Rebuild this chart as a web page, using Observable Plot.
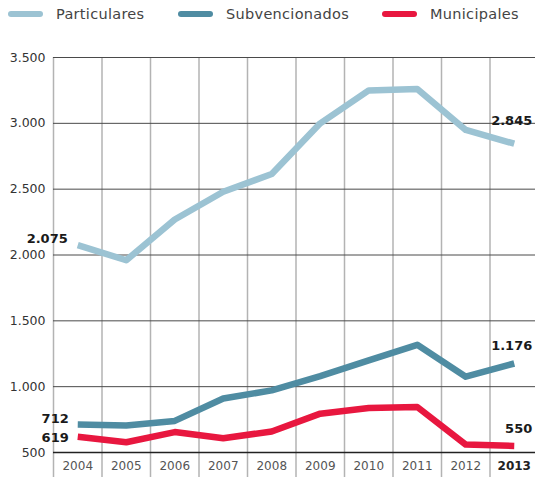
<!DOCTYPE html>
<html><head><meta charset="utf-8">
<script src="https://cdn.jsdelivr.net/npm/d3@7"></script>
<script src="https://cdn.jsdelivr.net/npm/@observablehq/plot@0.6"></script>
<style>
body{margin:0;background:#fff;font-family:"DejaVu Sans",sans-serif;}
#legend{position:relative;height:40px;width:535px;}
.item{position:absolute;top:5px;height:18px;display:flex;align-items:center;font-size:14.5px;color:#444;letter-spacing:0.3px;white-space:nowrap;}
.sw{width:35px;height:6px;border-radius:3px;margin-right:13px;}
#chart svg{display:block;}
</style></head><body>
<div id="legend"></div>
<div id="chart"></div>
<script>
const years = [2004, 2005, 2006, 2007, 2008, 2009, 2010, 2011, 2012, 2013];
const particulares = [2075, 1960, 2270, 2480, 2615, 3000, 3250, 3260, 2950, 2845];
const subvencionados = [712, 705, 740, 910, 972, 1080, 1200, 1318, 1076, 1176];
const municipales = [619, 578, 655, 608, 660, 795, 838, 846, 560, 550];
const seriesNames = ["Particulares", "Subvencionados", "Municipales"];
const seriesColors = ["#9cc3d3", "#4f8ca2", "#e8173f"];
const yTicks = [500, 1000, 1500, 2000, 2500, 3000, 3500];

const seriesValues = [particulares, subvencionados, municipales];
const data = seriesNames.flatMap((s, i) => years.map((y, j) => ({series: s, year: y, value: seriesValues[i][j]})));
const bounds = years.map(y => y - 0.5);

const loc = d3.formatLocale({decimal: ",", thousands: ".", grouping: [3], currency: ["", ""]});
const fmt = loc.format(",");

// legend
const legendLeft = [8, 178, 382];
const legend = document.getElementById("legend");
seriesNames.forEach((s, i) => {
  const it = document.createElement("div");
  it.className = "item";
  it.style.left = legendLeft[i] + "px";
  const sw = document.createElement("span");
  sw.className = "sw";
  sw.style.background = seriesColors[i];
  const tx = document.createElement("span");
  tx.textContent = s;
  it.appendChild(sw); it.appendChild(tx);
  legend.appendChild(it);
});

// end labels: offsets (style only)
const labelStyle = [
  {series: 0, idx: 0, dx: -10, dy: -6, anchor: "end"},
  {series: 0, idx: 9, dx: 18, dy: -23, anchor: "end"},
  {series: 1, idx: 0, dx: -9, dy: -6, anchor: "end"},
  {series: 1, idx: 9, dx: 18, dy: -18, anchor: "end"},
  {series: 2, idx: 0, dx: -9, dy: 1, anchor: "end"},
  {series: 2, idx: 9, dx: 18, dy: -17, anchor: "end"}
];
const labelMarks = labelStyle.map(l => Plot.text([{year: years[l.idx], value: seriesValues[l.series][l.idx]}], {
  x: "year", y: "value", text: d => fmt(d.value), dx: l.dx, dy: l.dy, textAnchor: l.anchor,
  fontSize: 13, fontWeight: "bold", fill: "#1a1a1a"
}));

const lastYear = years[years.length - 1];

const chart = Plot.plot({
  width: 535, height: 437,
  marginTop: 17, marginBottom: 25, marginLeft: 53, marginRight: 0,
  style: {fontFamily: "DejaVu Sans, sans-serif", background: "#fff"},
  x: {type: "linear", domain: [years[0] - 0.5, lastYear + 0.5], range: [53, 538], axis: null},
  y: {domain: [500, 3500], axis: null, label: null},
  color: {domain: seriesNames, range: seriesColors},
  marks: [
    Plot.ruleX(bounds, {stroke: "#b3b3b3", strokeWidth: 1.5, insetBottom: -25}),
    Plot.ruleY(yTicks, {stroke: "#4a4a4a", strokeWidth: 1}),
    Plot.ruleY([500], {stroke: "#222", strokeWidth: 1.5}),
    Plot.axisY(yTicks, {anchor: "left", label: null, tickSize: 0, tickPadding: 8, tickFormat: fmt, fontSize: 12.5, fill: "#333"}),
    Plot.line(data, {x: "year", y: "value", z: "series", stroke: "series", strokeWidth: 6.5, strokeLinejoin: "round", strokeLinecap: "butt"}),
    Plot.text(years, {x: d => d, text: d => String(d), filter: d => d !== lastYear, frameAnchor: "bottom", dy: 17, fontSize: 12, fill: "#555"}),
    Plot.text(years, {x: d => d, text: d => String(d), filter: d => d === lastYear, frameAnchor: "bottom", dy: 17, fontSize: 12, fontWeight: "bold", fill: "#222"}),
    ...labelMarks
  ]
});
document.getElementById("chart").appendChild(chart);
</script>
</body></html>
